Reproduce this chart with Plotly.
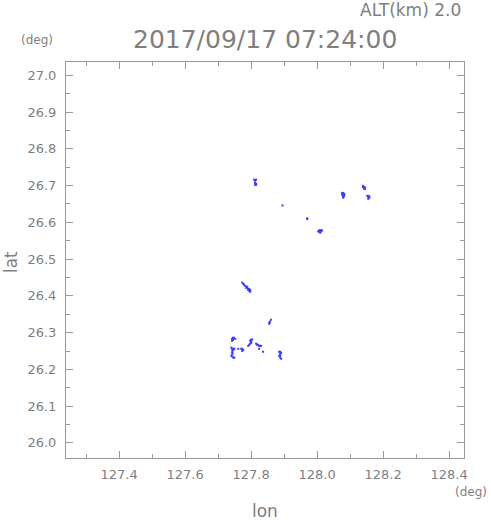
import plotly.graph_objects as go

lon = [
    127.809, 127.815, 127.812, 127.812, 127.815, 127.812, 127.815,
    127.895, 127.970, 127.970,
    128.006, 128.009, 128.012, 128.015, 128.003, 128.006, 128.009, 128.012,
    128.076, 128.079, 128.076, 128.082, 128.076, 128.079, 128.082, 128.079, 128.079,
    128.139, 128.139, 128.142, 128.145, 128.142, 128.145,
    128.152, 128.155, 128.158, 128.155, 128.158, 128.155,
    127.773, 127.776, 127.779, 127.782, 127.788, 127.785, 127.788, 127.791, 127.794,
    127.791, 127.797, 127.794, 127.797, 127.797,
    127.860, 127.857, 127.855, 127.855,
    127.745, 127.748, 127.752, 127.742, 127.745, 127.742,
    127.800, 127.803, 127.797, 127.800, 127.800, 127.797, 127.794, 127.791,
    127.815, 127.818, 127.821, 127.824, 127.827, 127.830,
    127.740, 127.743, 127.746, 127.749, 127.743, 127.746,
    127.761, 127.770, 127.773, 127.776, 127.773,
    127.824, 127.836,
    127.743, 127.743, 127.743, 127.740, 127.743, 127.746, 127.749,
    127.885, 127.888, 127.891, 127.888, 127.885, 127.888, 127.888, 127.891,
]
lat = [
    26.716, 26.716, 26.713, 26.707, 26.705, 26.702, 26.702,
    26.646, 26.611, 26.609,
    26.578, 26.578, 26.578, 26.578, 26.575, 26.575, 26.572, 26.575,
    26.680, 26.680, 26.677, 26.677, 26.675, 26.672, 26.672, 26.669, 26.667,
    26.699, 26.696, 26.696, 26.694, 26.691, 26.691,
    26.672, 26.672, 26.670, 26.667, 26.667, 26.664,
    26.436, 26.433, 26.430, 26.427, 26.425, 26.422, 26.422, 26.419, 26.419,
    26.416, 26.416, 26.414, 26.414, 26.411,
    26.335, 26.330, 26.327, 26.324,
    26.286, 26.286, 26.283, 26.283, 26.280, 26.278,
    26.281, 26.281, 26.278, 26.275, 26.272, 26.270, 26.267, 26.264,
    26.270, 26.267, 26.267, 26.264, 26.264, 26.264,
    26.259, 26.256, 26.256, 26.256, 26.253, 26.253,
    26.256, 26.256, 26.256, 26.253, 26.250,
    26.256, 26.248,
    26.248, 26.245, 26.242, 26.237, 26.235, 26.232, 26.232,
    26.248, 26.248, 26.245, 26.242, 26.237, 26.237, 26.232, 26.229,
]

title_text = "2017/09/17 07:24:00"
alt_text = "ALT(km) 2.0"
x_label = "lon"
y_label = "lat"
unit_text = "(deg)"

gray = "#7f7f7f"
font_family = "DejaVu Sans"

fig = go.Figure()
fig.add_trace(go.Scatter(
    x=lon, y=lat, mode="markers",
    marker=dict(symbol="square", size=2, color="#3c3cff", line=dict(width=0)),
    hoverinfo="skip", showlegend=False,
))

axis_common = dict(
    showgrid=False, zeroline=False, showline=True, linecolor="#9a9a9a", linewidth=1,
    mirror="allticks", ticks="inside", ticklen=7, tickcolor="#9a9a9a", tickwidth=1,
    tickfont=dict(family=font_family, size=13, color=gray),
    tickformat=".1f",
)

fig.update_xaxes(range=[127.239, 128.445], dtick=0.2, tick0=127.0,
                 minor=dict(dtick=0.1, tick0=127.0, ticks="inside", ticklen=4, tickcolor="#9a9a9a"),
                 ticklabelstandoff=4, **axis_common)
fig.update_yaxes(range=[25.959, 27.036], dtick=0.1, tick0=26.0,
                 minor=dict(dtick=0.05, tick0=26.0, ticks="inside", ticklen=4, tickcolor="#9a9a9a"),
                 ticklabelstandoff=6, **axis_common)

ann_font = lambda s: dict(family=font_family, size=s, color=gray)
fig.add_annotation(text=title_text, x=0.5, y=1.0556, xref="paper", yref="paper",
                   showarrow=False, font=ann_font(25), xanchor="center", yanchor="middle")
fig.add_annotation(text=alt_text, x=0.9975, y=1.131, xref="paper", yref="paper",
                   showarrow=False, font=ann_font(17), xanchor="right", yanchor="middle")
fig.add_annotation(text=unit_text, x=-0.0729, y=1.0556, xref="paper", yref="paper",
                   showarrow=False, font=ann_font(12), xanchor="center", yanchor="middle")
fig.add_annotation(text=unit_text, x=1.0176, y=-0.0859, xref="paper", yref="paper",
                   showarrow=False, font=ann_font(12), xanchor="center", yanchor="middle")
fig.add_annotation(text=x_label, x=0.5, y=-0.1338, xref="paper", yref="paper",
                   showarrow=False, font=ann_font(17), xanchor="center", yanchor="middle")
fig.add_annotation(text=y_label, x=-0.138, y=0.495, xref="paper", yref="paper",
                   showarrow=False, font=ann_font(17), textangle=-90,
                   xanchor="center", yanchor="middle")

fig.update_layout(
    width=491, height=521,
    margin=dict(l=66, r=27, t=62, b=63),
    paper_bgcolor="white", plot_bgcolor="white",
)

fig.write_html("out.html", config={"displayModeBar": False},
               post_script="document.body.style.margin='0';document.body.style.overflow='hidden';")
